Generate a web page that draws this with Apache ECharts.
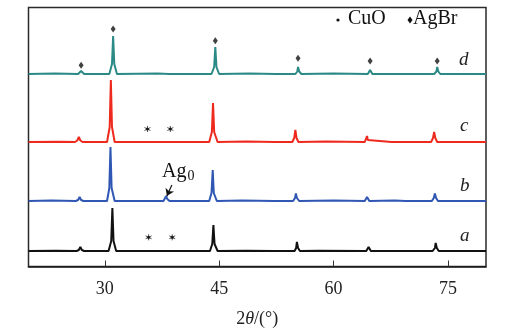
<!DOCTYPE html>
<html>
<head>
<meta charset="utf-8">
<script src="https://cdn.jsdelivr.net/npm/echarts@6/dist/echarts.min.js"></script>
<style>
  html, body { margin: 0; padding: 0; background: #fff; }
  #chart { width: 523px; height: 333px; }
</style>
</head>
<body>
<div id="chart"></div>
<script>
// XRD patterns (2θ in degrees, intensity in a.u., baseline 0 for each sample)
const sampleNames = ['a', 'b', 'c', 'd'];
const sampleColors = ['#111111', '#2f57b3', '#ee2a1f', '#2b8a86'];
// vertical stacking offsets of the four patterns (a.u.)
const stackOffsets = [15.5, 65.5, 124.5, 192.5];

const patternA = [
  [20, 0], [23.5, 0.3], [26.3, 0], [26.6, 1], [26.8, 4], [27.0, 1], [27.3, 0],
  [30.5, 0], [30.85, 10], [31.0, 43], [31.15, 10], [31.5, 0],
  [35.4, 0], [35.6, 1], [35.8, 0], [38.6, 0], [38.8, 0.8], [39.0, 0],
  [43.8, 0], [44.1, 7], [44.25, 26], [44.4, 7], [44.8, 0],
  [48.5, 0.3], [52.3, 0], [52.5, 1], [52.7, 0],
  [54.9, 0], [55.1, 3], [55.2, 9], [55.35, 3], [55.6, 0],
  [58.0, 0.3], [64.3, 0], [64.6, 4], [64.9, 0], [67.8, 0], [68.0, 1], [68.2, 0],
  [73.0, 0], [73.3, 3], [73.4, 8], [73.55, 3], [73.8, 0],
  [77.3, 0], [77.5, 1.5], [77.7, 0], [80, 0]
];
const patternB = [
  [20, 0], [23.0, 0.4], [26.2, 0], [26.5, 1], [26.7, 4], [26.9, 1], [27.2, 0],
  [30.3, 0], [30.6, 13], [30.75, 54], [30.9, 13], [31.3, 0],
  [35.25, 0], [35.45, 2], [35.65, 0], [37.7, 0], [37.9, 2], [38.06, 5], [38.2, 2], [38.5, 0],
  [43.7, 0], [44.0, 8], [44.16, 31], [44.3, 8], [44.7, 0],
  [48.0, 0.4], [52.3, 0], [52.5, 1], [52.7, 0],
  [54.7, 0], [54.95, 3], [55.07, 7.5], [55.2, 3], [55.5, 0],
  [60.0, 0.4], [64.1, 0], [64.4, 4], [64.7, 0], [68.0, 0.6], [69.5, 0],
  [72.9, 0], [73.15, 3], [73.3, 7.5], [73.45, 3], [73.7, 0],
  [77.2, 0], [77.4, 2], [77.6, 0], [80, 0]
];
const patternC = [
  [20, 0], [24.0, 0.3], [26.1, 0], [26.4, 1.5], [26.6, 5], [26.8, 1.5], [27.1, 0],
  [30.3, 0], [30.65, 15], [30.8, 62], [30.95, 15], [31.3, 0],
  [35.25, 0], [35.45, 1.5], [35.65, 0], [38.4, 0], [38.6, 1], [38.8, 0],
  [43.7, 0], [44.05, 10], [44.2, 39], [44.35, 10], [44.8, 0],
  [48.5, 0.4], [52.3, 0], [52.5, 1], [52.7, 0],
  [54.6, 0], [54.85, 4], [55.0, 12], [55.15, 4], [55.4, 0],
  [59.0, 0.4], [64.1, 0], [64.3, 2], [64.4, 6], [64.5, 2], [64.7, 0],
  [67.6, 0], [67.8, 1], [68.0, 0],
  [72.8, 0], [73.05, 4], [73.2, 10], [73.35, 4], [73.6, 0],
  [77.2, 0], [77.4, 1.5], [77.6, 0], [80, 0]
];
const patternD = [
  [20, 0], [23.5, 0.4], [26.5, 0], [26.75, 1], [26.9, 3], [27.05, 1], [27.3, 0],
  [30.6, 0], [30.95, 10], [31.1, 38], [31.25, 10], [31.6, 0],
  [37.0, 0.4], [38.4, 0],
  [44.0, 0], [44.35, 7], [44.5, 27], [44.65, 7], [45.0, 0],
  [49.0, 0.4], [52.4, 0], [52.6, 1], [52.8, 0],
  [55.0, 0], [55.25, 2.5], [55.35, 7], [55.5, 2.5], [55.8, 0],
  [60.0, 0.4], [64.5, 0], [64.8, 4], [65.1, 0],
  [73.2, 0], [73.5, 2.5], [73.6, 7], [73.75, 2.5], [74.0, 0],
  [77.5, 0], [77.7, 1], [77.9, 0], [80, 0]
];
const patterns = [patternA, patternB, patternC, patternD];

// reflection markers, heights relative to each pattern's baseline
const agbrMarksD = [[26.9, 8.7], [31.1, 45], [44.5, 33.3], [55.35, 15.7], [64.8, 13], [73.6, 13]];
const cuoMarksC = [[35.6, 13], [38.6, 13]];
const cuoMarksA = [[35.75, 13.7], [38.85, 13.7]];
// arrow pointing at the metallic Ag reflection in pattern b
const agArrowB = [[38.8, 16], [38.15, 5]];

const xTicks = [30, 45, 60, 75];
const serif = '"Liberation Serif", "DejaVu Serif", serif';

const shift = (pts, k) => pts.map(p => [p[0], p[1] + stackOffsets[k]]);

const lineSeries = patterns.map((pts, k) => ({
  type: 'line',
  name: sampleNames[k],
  data: shift(pts, k),
  showSymbol: false,
  symbol: 'none',
  lineStyle: { color: sampleColors[k], width: 2 },
  z: 3 + k,
  markLine: k === 1 ? {
    silent: true,
    symbol: ['none', 'arrow'],
    symbolSize: 7,
    label: { show: false },
    lineStyle: { color: '#111', width: 1.2, type: 'solid' },
    data: [[
      { coord: [agArrowB[0][0], agArrowB[0][1] + stackOffsets[1]] },
      { coord: [agArrowB[1][0], agArrowB[1][1] + stackOffsets[1]] }
    ]]
  } : undefined
}));

// small asterisk used for the CuO reflections
const asterisk = 'path://M5,0 L5,10 M0.7,2.5 L9.3,7.5 M0.7,7.5 L9.3,2.5';

const cuoSeries = (name, pts, k) => ({
  type: 'scatter', name: name,
  data: shift(pts, k),
  symbol: 'circle', symbolSize: 3.2,
  itemStyle: { color: '#111' }, z: 10
});

const option = {
  animation: false,
  backgroundColor: '#fff',
  grid: {
    left: 28.5, right: 37, top: 7.5, bottom: 66.5,
    show: true, borderColor: '#2a2a2a', borderWidth: 1.5,
    outerBoundsMode: 'none'
  },
  xAxis: {
    type: 'value', min: 20, max: 80,
    axisLine: { show: true, lineStyle: { color: '#1a1a1a', width: 1.5 } },
    axisTick: { show: true, inside: true, length: 6, customValues: xTicks,
      lineStyle: { color: '#333', width: 1 } },
    axisLabel: { customValues: xTicks, fontFamily: serif, fontSize: 18, color: '#222', margin: 14 },
    splitLine: { show: false },
    name: '{n|2}{t|θ}{n|/(°)}', nameLocation: 'middle', nameGap: 44,
    nameTextStyle: {
      rich: {
        n: { fontFamily: serif, fontSize: 18, color: '#222' },
        t: { fontFamily: serif, fontSize: 18, fontStyle: 'italic', color: '#222' }
      }
    }
  },
  yAxis: {
    type: 'value', min: 0, max: 259,
    axisLine: { show: false }, axisTick: { show: false },
    axisLabel: { show: false }, splitLine: { show: false }
  },
  series: [
    ...lineSeries,
    {
      type: 'scatter', name: 'AgBr',
      data: shift(agbrMarksD, 3),
      symbol: 'diamond', symbolSize: [5, 7],
      itemStyle: { color: '#111' }, z: 10
    },
    cuoSeries('CuO c', cuoMarksC, 2),
    cuoSeries('CuO a', cuoMarksA, 0),
    {
      type: 'scatter', name: 'CuO rays',
      data: shift(cuoMarksC, 2).concat(shift(cuoMarksA, 0)),
      symbol: asterisk, symbolSize: 6,
      itemStyle: { color: 'none', borderColor: '#111', borderWidth: 0.9 }, z: 11
    }
  ],
  graphic: [
    // legend
    { type: 'circle', shape: { cx: 338, cy: 20, r: 1.6 }, style: { fill: '#111' } },
    { type: 'text', left: 348, top: 9, style: { text: 'CuO', font: '20px ' + serif, fill: '#111' } },
    { type: 'polygon', shape: { points: [[410, 16.5], [412.5, 20], [410, 23.5], [407.5, 20]] }, style: { fill: '#111' } },
    { type: 'text', left: 413, top: 9, style: { text: 'AgBr', font: '20px ' + serif, fill: '#111' } },
    // sample labels
    { type: 'text', left: 459, top: 50, style: { text: 'd', font: 'italic 19px ' + serif, fill: '#222' } },
    { type: 'text', left: 460, top: 116, style: { text: 'c', font: 'italic 19px ' + serif, fill: '#222' } },
    { type: 'text', left: 460, top: 176, style: { text: 'b', font: 'italic 19px ' + serif, fill: '#222' } },
    { type: 'text', left: 460, top: 226, style: { text: 'a', font: 'italic 19px ' + serif, fill: '#222' } },
    // Ag0 annotation
    { type: 'text', left: 162, top: 162, style: {
        text: '{m|Ag}{s|0}',
        rich: {
          m: { font: '20px ' + serif, fill: '#111' },
          s: { font: '14px ' + serif, fill: '#111', padding: [8, 0, 0, 1] }
        }
      } }
  ]
};

const chart = echarts.init(document.getElementById('chart'), null, { renderer: 'canvas' });
chart.setOption(option);
</script>
</body>
</html>
